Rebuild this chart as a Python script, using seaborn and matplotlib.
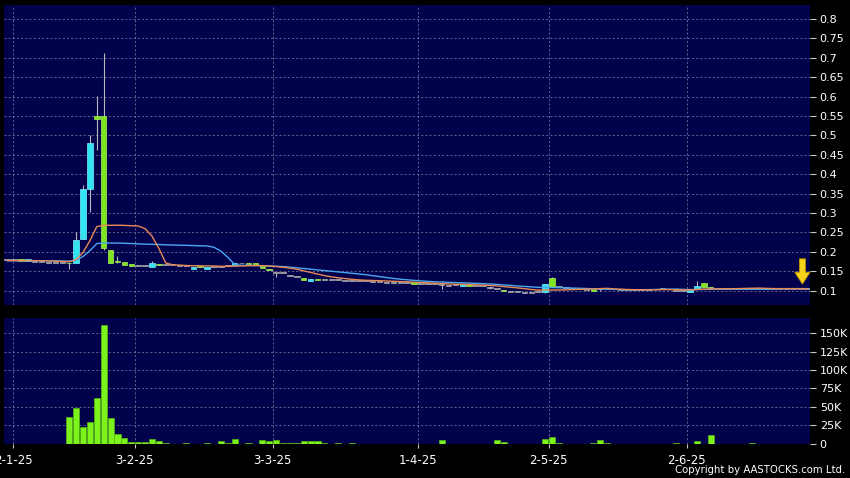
import numpy as np
import pandas as pd
import matplotlib
matplotlib.use("Agg")
import matplotlib.pyplot as plt
import seaborn as sns

# ---------------- data (one entry per trading day) ----------------
# closes of the 19 sessions before the visible window (only feed the moving averages)
warmup_closes = [0.176, 0.176, 0.177, 0.177, 0.176, 0.177, 0.178, 0.177, 0.176, 0.176,
                 0.177, 0.178, 0.178, 0.177, 0.177, 0.176, 0.177, 0.178, 0.178]
opens = [0.178, 0.178, 0.182, 0.177, 0.174, 0.173, 0.172, 0.172, 0.171, 0.172,
         0.172, 0.234, 0.362, 0.550, 0.550, 0.205, 0.177, 0.175, 0.169, 0.163,
         0.163, 0.160, 0.168, 0.165, 0.165, 0.163, 0.163, 0.157, 0.163, 0.155,
         0.162, 0.162, 0.163, 0.165, 0.170, 0.172, 0.170, 0.165, 0.157, 0.146,
         0.145, 0.139, 0.135, 0.133, 0.126, 0.131, 0.127, 0.127, 0.127, 0.126,
         0.125, 0.125, 0.125, 0.123, 0.123, 0.120, 0.120, 0.120, 0.120, 0.121,
         0.116, 0.116, 0.116, 0.114, 0.113, 0.115, 0.113, 0.116, 0.112, 0.112,
         0.108, 0.104, 0.102, 0.097, 0.096, 0.095, 0.095, 0.096, 0.097, 0.133,
         0.110, 0.106, 0.105, 0.103, 0.102, 0.104, 0.103, 0.103, 0.103, 0.102,
         0.102, 0.101, 0.102, 0.102, 0.103, 0.105, 0.103, 0.100, 0.100, 0.096,
         0.103, 0.120, 0.110, 0.105, 0.105, 0.105, 0.104, 0.105, 0.105, 0.105,
         0.104, 0.105, 0.105, 0.105, 0.105, 0.105, 0.105]
closes = [0.178, 0.178, 0.176, 0.181, 0.174, 0.173, 0.172, 0.172, 0.171, 0.170,
          0.231, 0.362, 0.481, 0.543, 0.210, 0.172, 0.174, 0.167, 0.163, 0.163,
          0.163, 0.170, 0.165, 0.165, 0.165, 0.163, 0.163, 0.162, 0.160, 0.160,
          0.162, 0.162, 0.163, 0.172, 0.170, 0.169, 0.167, 0.158, 0.152, 0.146,
          0.145, 0.139, 0.135, 0.128, 0.130, 0.127, 0.127, 0.127, 0.127, 0.126,
          0.125, 0.125, 0.125, 0.123, 0.123, 0.120, 0.120, 0.120, 0.120, 0.117,
          0.116, 0.116, 0.116, 0.114, 0.113, 0.115, 0.116, 0.113, 0.112, 0.112,
          0.108, 0.104, 0.098, 0.097, 0.096, 0.095, 0.095, 0.096, 0.117, 0.110,
          0.110, 0.106, 0.105, 0.103, 0.102, 0.100, 0.103, 0.103, 0.103, 0.102,
          0.102, 0.101, 0.102, 0.102, 0.103, 0.105, 0.103, 0.100, 0.100, 0.101,
          0.113, 0.110, 0.107, 0.105, 0.105, 0.105, 0.106, 0.105, 0.105, 0.105,
          0.106, 0.105, 0.105, 0.105, 0.105, 0.105, 0.105]
highs = [0.178, 0.178, 0.182, 0.181, 0.174, 0.173, 0.172, 0.172, 0.171, 0.174,
         0.252, 0.373, 0.501, 0.602, 0.712, 0.205, 0.190, 0.175, 0.169, 0.163,
         0.163, 0.177, 0.168, 0.165, 0.165, 0.163, 0.163, 0.162, 0.163, 0.160,
         0.162, 0.162, 0.163, 0.172, 0.170, 0.172, 0.170, 0.165, 0.157, 0.146,
         0.145, 0.139, 0.135, 0.133, 0.130, 0.131, 0.127, 0.127, 0.127, 0.126,
         0.125, 0.125, 0.125, 0.123, 0.123, 0.120, 0.120, 0.120, 0.120, 0.121,
         0.116, 0.116, 0.116, 0.120, 0.113, 0.115, 0.116, 0.116, 0.112, 0.112,
         0.113, 0.104, 0.102, 0.097, 0.096, 0.095, 0.095, 0.096, 0.117, 0.135,
         0.110, 0.106, 0.105, 0.103, 0.102, 0.104, 0.108, 0.103, 0.103, 0.102,
         0.102, 0.101, 0.102, 0.102, 0.103, 0.105, 0.103, 0.100, 0.100, 0.101,
         0.124, 0.120, 0.110, 0.105, 0.105, 0.105, 0.106, 0.105, 0.105, 0.105,
         0.106, 0.105, 0.105, 0.105, 0.105, 0.105, 0.105]
lows = [0.178, 0.178, 0.176, 0.177, 0.174, 0.173, 0.172, 0.172, 0.171, 0.157,
        0.170, 0.234, 0.303, 0.463, 0.205, 0.170, 0.172, 0.167, 0.163, 0.163,
        0.163, 0.160, 0.165, 0.165, 0.165, 0.163, 0.163, 0.157, 0.160, 0.155,
        0.162, 0.162, 0.163, 0.165, 0.170, 0.169, 0.167, 0.158, 0.152, 0.136,
        0.145, 0.139, 0.135, 0.128, 0.126, 0.127, 0.127, 0.127, 0.127, 0.126,
        0.125, 0.125, 0.125, 0.123, 0.123, 0.120, 0.120, 0.120, 0.120, 0.117,
        0.116, 0.116, 0.116, 0.105, 0.113, 0.115, 0.113, 0.113, 0.112, 0.112,
        0.104, 0.104, 0.098, 0.097, 0.096, 0.095, 0.095, 0.096, 0.093, 0.110,
        0.110, 0.106, 0.105, 0.103, 0.102, 0.100, 0.100, 0.103, 0.103, 0.102,
        0.102, 0.101, 0.102, 0.102, 0.103, 0.105, 0.103, 0.100, 0.100, 0.096,
        0.103, 0.110, 0.107, 0.105, 0.105, 0.105, 0.104, 0.105, 0.105, 0.105,
        0.104, 0.105, 0.105, 0.105, 0.105, 0.105, 0.105]
volume_k = [0, 0, 0, 0, 0, 0, 0, 0, 0, 36,
            48, 22, 30, 62, 161, 35, 13, 8, 2.5, 2.5,
            2.5, 6, 3, 1.5, 0, 0, 1.5, 0, 0, 1.5,
            0, 3, 1, 6, 0, 0.5, 0, 5, 3, 4.5,
            1.5, 1.5, 1.5, 3, 3, 3.5, 0.5, 0, 0.5, 0,
            1.5, 0, 0, 0, 0, 0, 0, 0, 0, 0,
            0, 0, 0, 4.5, 0, 0, 0, 0, 0, 0,
            0, 5, 2.5, 0, 0, 0, 0, 0, 6, 8.5,
            1.5, 0, 0, 0, 0, 1.5, 4.5, 1, 0, 0,
            0, 0, 0, 0, 0, 0, 0, 1.5, 0, 0,
            3, 0, 12, 0, 0, 0, 0, 0, 1, 0,
            0, 0, 0, 0, 0, 0, 0]
date_tick_pos = [0.9, 18.5, 38.5, 59.5, 78.5, 98.5]
date_labels = ["2-1-25", "3-2-25", "3-3-25", "1-4-25", "2-5-25", "2-6-25"]
price_ticks = [0.1, 0.15, 0.2, 0.25, 0.3, 0.35, 0.4, 0.45, 0.5, 0.55, 0.6, 0.65, 0.7, 0.75, 0.8]
price_labels = ["0.1", "0.15", "0.2", "0.25", "0.3", "0.35", "0.4", "0.45", "0.5",
                "0.55", "0.6", "0.65", "0.7", "0.75", "0.8"]
vol_ticks = [0, 25, 50, 75, 100, 125, 150]
vol_labels = ["0", "25K", "50K", "75K", "100K", "125K", "150K"]

df = pd.DataFrame({"day": np.arange(len(closes)), "open": opens, "close": closes,
                   "high": highs, "low": lows, "vol": volume_k})
all_closes = pd.Series(warmup_closes + closes)
nw = len(warmup_closes)
df["ma10"] = all_closes.rolling(10, min_periods=1).mean().iloc[nw:].to_numpy()
df["ma20"] = all_closes.rolling(20, min_periods=1).mean().iloc[nw:].to_numpy()

# ---------------- style ----------------
sns.set_theme(style="dark")
plt.rcParams["font.family"] = ["DejaVu Sans"]
BG = "#02024c"
GRID = "#8a8aa8"
UP = "#33e4f2"
DOWN = "#7ee41e"
FLAT = "#9a9a9a"

fig = plt.figure(figsize=(8.5, 4.78), dpi=100, facecolor="black")
ax = fig.add_axes([4 / 850, 1 - 305 / 478, 806 / 850, 300 / 478])
axv = fig.add_axes([4 / 850, 1 - 444 / 478, 806 / 850, 126 / 478])

for a in (ax, axv):
    a.set_facecolor(BG)
    for s in a.spines.values():
        s.set_visible(False)
    a.grid(True, color=GRID, linestyle=(0, (2.5, 2.5)), linewidth=0.6, alpha=0.8)
    a.set_axisbelow(True)

# ---------------- candles ----------------
body_lo = df[["open", "close"]].min(axis=1)
body_h = (df["close"] - df["open"]).abs().clip(lower=0.0025)
colors = [UP if c > o else (DOWN if c < o else FLAT) for o, c in zip(df["open"], df["close"])]
edges = ["#7af0ff" if c > o else ("#a8f060" if c < o else "#b0b0b0") for o, c in zip(df["open"], df["close"])]
ax.vlines(df["day"], df["low"], df["high"], color="#b8b8c0", linewidth=0.8, zorder=2)
ax.bar(df["day"], body_h, bottom=body_lo, width=0.8, color=colors, edgecolor=edges,
       linewidth=0.5, zorder=3)

# moving averages
sns.lineplot(data=df, x="day", y="ma20", ax=ax, color="#4aa6ee", linewidth=1.0, zorder=4)
sns.lineplot(data=df, x="day", y="ma10", ax=ax, color="#e88a55", linewidth=1.0, zorder=4)

ax.set_xlim(-0.45, 116.4)
ax.set_ylim(0.063, 0.836)
ax.set_xticks(date_tick_pos)
ax.set_xticklabels([])
ax.set_yticks(price_ticks)
ax.set_yticklabels(price_labels)
ax.yaxis.tick_right()
ax.tick_params(axis="y", colors="#c8c8c8", labelcolor="white", length=4, width=0.8,
               pad=3, labelsize=8, left=False, right=True)
ax.tick_params(axis="x", length=0)
ax.set_xlabel("")
ax.set_ylabel("")

# arrow marker at last price
ax.annotate("", xy=(115.3, 0.117), xytext=(115.3, 0.182),
            arrowprops=dict(width=4.3, headwidth=11, headlength=8.5,
                            facecolor="#f6d21a", edgecolor="#b89200", linewidth=0.6, shrink=0),
            zorder=6)

# ---------------- volume ----------------
sns.barplot(data=df, x="day", y="vol", ax=axv, native_scale=True, color="#7cf41c",
            saturation=1, width=0.88, edgecolor="#58b812", linewidth=0.5, errorbar=None)
axv.set_xlim(-0.45, 116.4)
axv.set_ylim(-0.5, 170.5)
axv.set_xticks(date_tick_pos)
axv.set_xticklabels(date_labels)
axv.set_yticks(vol_ticks)
axv.set_yticklabels(vol_labels)
axv.yaxis.tick_right()
axv.tick_params(axis="y", colors="#c8c8c8", labelcolor="white", length=4, width=0.8,
                pad=3, labelsize=8, left=False, right=True)
axv.tick_params(axis="x", colors="#c8c8c8", labelcolor="white", length=3, width=0.8,
                pad=4, labelsize=8.5, bottom=True)
axv.set_xlabel("")
axv.set_ylabel("")

fig.text(845 / 850, 1 - 470 / 478, "Copyright by AASTOCKS.com Ltd.", ha="right",
         va="center", color="white", fontsize=7.3)

fig.savefig("out.png", dpi=100, facecolor="black")
